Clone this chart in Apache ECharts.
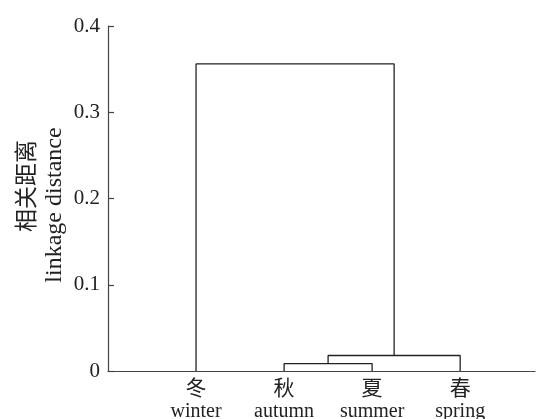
<!DOCTYPE html>
<html>
<head>
<meta charset="utf-8">
<script src="https://cdn.jsdelivr.net/npm/echarts@6/dist/echarts.min.js"></script>
<style>
  html, body { margin: 0; padding: 0; background: #fff; }
  #chart { width: 536px; height: 419px; }
</style>
</head>
<body>
<div id="chart"></div>
<script>
const leavesCn = ["冬", "秋", "夏", "春"];
const leavesEn = ["winter", "autumn", "summer", "spring"];
// merges: [left cluster, right cluster, distance]; new clusters get ids 4, 5, ...
const merges = [
  [1, 2, 0.0085],
  [4, 3, 0.018],
  [0, 5, 0.356],
];
const yTicks = [0, 0.1, 0.2, 0.3, 0.4];

const serif = "'Liberation Serif', 'Noto Sans CJK SC', serif";
const ink = "#222";

function buildLinks() {
  const pos = leavesCn.map((_, i) => i + 1);
  const height = leavesCn.map(() => 0);
  return merges.map(([a, b, h]) => {
    const seg = [[pos[a], height[a]], [pos[a], h], [pos[b], h], [pos[b], height[b]]];
    pos.push((pos[a] + pos[b]) / 2);
    height.push(h);
    return seg;
  });
}

const chart = echarts.init(document.getElementById("chart"), null, { renderer: "canvas" });
chart.setOption({
  animation: false,
  grid: { left: 108, right: 1, top: 26, bottom: 48, containLabel: false, outerBoundsMode: "none" },
  xAxis: {
    type: "value",
    min: 0,
    max: 4.85,
    interval: 1,
    splitLine: { show: false },
    axisTick: { show: false },
    axisLine: { lineStyle: { color: "#444", width: 1.2 } },
    axisLabel: {
      showMaxLabel: false,
      margin: 6,
      formatter: (v) => {
        const i = Math.round(v) - 1;
        if (i < 0 || i >= leavesCn.length || Math.abs(v - Math.round(v)) > 1e-6) return "";
        return `{cn|${leavesCn[i]}}\n{en|${leavesEn[i]}}`;
      },
      rich: {
        cn: { fontFamily: serif, fontSize: 21, color: ink, lineHeight: 24 },
        en: { fontFamily: serif, fontSize: 20, color: ink, lineHeight: 21 },
      },
    },
  },
  yAxis: {
    type: "value",
    min: yTicks[0],
    max: yTicks[yTicks.length - 1],
    interval: 0.1,
    splitLine: { show: false },
    axisLine: { show: true, lineStyle: { color: "#444", width: 1.2 } },
    axisTick: { show: true, inside: true, length: 6, lineStyle: { color: "#444", width: 1.2 } },
    axisLabel: {
      margin: 8,
      color: ink,
      fontFamily: serif,
      fontSize: 21,
      formatter: (v) => (v === 0 ? "0" : v.toFixed(1)),
    },
    name: "{sp1| }{cn|相关距离}\n{en|linkage distance}{sp2| }",
    nameLocation: "middle",
    nameRotate: 90,
    nameGap: 40,
    nameMoveOverlap: false,
    nameTextStyle: {
      color: ink,
      fontFamily: serif,
      fontSize: 23,
      lineHeight: 27,
      rich: {
        sp1: { width: 25 },
        sp2: { width: 13 },
        cn: { fontFamily: serif, fontSize: 23, lineHeight: 27, color: ink },
        en: { fontFamily: serif, fontSize: 24, lineHeight: 27, color: ink },
      },
    },
  },
  series: buildLinks().map((seg) => ({
    type: "line",
    data: seg,
    symbol: "none",
    silent: true,
    lineStyle: { color: ink, width: 1.3 },
  })),
});
</script>
</body>
</html>
